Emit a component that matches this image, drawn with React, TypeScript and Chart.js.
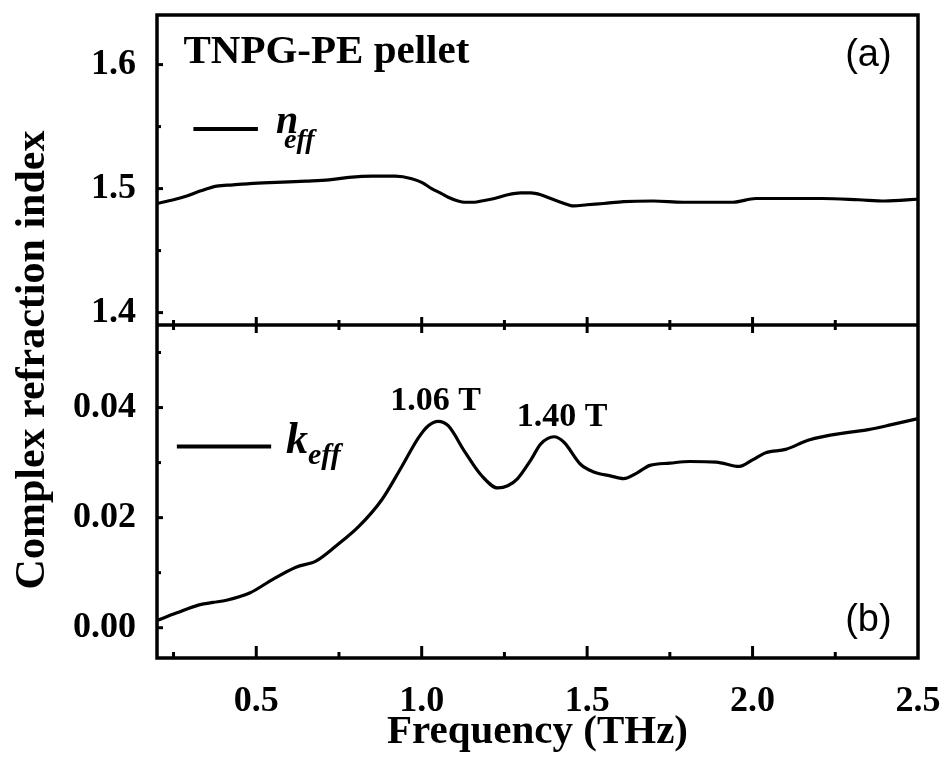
import React, { useEffect, useRef } from 'react';
import { Chart, registerables } from 'chart.js';

Chart.register(...registerables);

// ---- data ----
const freqN = [0.20, 0.25, 0.29, 0.33, 0.38, 0.43, 0.48, 0.56, 0.65, 0.72, 0.78, 0.85, 0.92, 0.97, 1.00, 1.03, 1.06, 1.08, 1.11, 1.13, 1.16, 1.18, 1.22, 1.26, 1.30, 1.33, 1.36, 1.39, 1.42, 1.46, 1.50, 1.55, 1.61, 1.70, 1.79, 1.87, 1.94, 2.01, 2.10, 2.21, 2.32, 2.40, 2.50];
const nEff = [1.488, 1.491, 1.494, 1.498, 1.502, 1.503, 1.504, 1.505, 1.506, 1.507, 1.509, 1.510, 1.510, 1.508, 1.505, 1.500, 1.496, 1.493, 1.490, 1.489, 1.489, 1.490, 1.492, 1.495, 1.4965, 1.4965, 1.495, 1.492, 1.489, 1.486, 1.487, 1.488, 1.4895, 1.490, 1.489, 1.489, 1.489, 1.492, 1.492, 1.492, 1.491, 1.490, 1.4915];

const freqK = [0.20, 0.26, 0.33, 0.37, 0.41, 0.48, 0.55, 0.62, 0.68, 0.74, 0.81, 0.88, 0.94, 0.99, 1.02, 1.05, 1.08, 1.13, 1.18, 1.23, 1.26, 1.29, 1.33, 1.36, 1.40, 1.43, 1.48, 1.52, 1.57, 1.61, 1.65, 1.69, 1.75, 1.81, 1.89, 1.96, 2.00, 2.04, 2.10, 2.17, 2.29, 2.35, 2.42, 2.50];
const kEff = [0.0013, 0.0027, 0.0042, 0.0046, 0.0050, 0.0063, 0.0088, 0.0110, 0.0121, 0.0148, 0.0184, 0.0233, 0.0293, 0.0345, 0.0367, 0.0375, 0.0367, 0.0320, 0.0277, 0.0254, 0.0258, 0.0271, 0.0305, 0.0334, 0.0347, 0.0337, 0.0297, 0.0283, 0.0276, 0.0271, 0.0281, 0.0295, 0.0299, 0.0302, 0.0301, 0.0293, 0.0305, 0.0318, 0.0324, 0.0341, 0.0355, 0.0360, 0.0369, 0.0380];

const xTickValues = [0.5, 1.0, 1.5, 2.0, 2.5];
const xMinorValues = [0.25, 0.75, 1.25, 1.75, 2.25];
const nTickValues = [1.4, 1.5, 1.6];
const nMinorValues = [1.45, 1.55];
const kTickValues = [0.0, 0.02, 0.04];
const kMinorValues = [0.01, 0.03, 0.05];

const xTitle = 'Frequency (THz)';
const yTitle = 'Complex refraction index';
const sampleLabel = 'TNPG-PE pellet';
const peakLabels = ['1.06 T', '1.40 T'];

const SERIF = '"Liberation Serif", "Times New Roman", serif';
const SANS = '"Liberation Sans", Arial, sans-serif';

const decorPlugin = {
  id: 'decor',
  afterDatasetsDraw(chart: any) {
    const { ctx, chartArea } = chart;
    const { left, right, top, bottom } = chartArea;
    const x = chart.scales.x;
    const yN = chart.scales.yN;
    const yK = chart.scales.yK;
    const mid = yN.bottom;
    ctx.save();
    ctx.strokeStyle = '#000';
    ctx.fillStyle = '#000';
    ctx.lineWidth = 3.5;
    ctx.strokeRect(left, top, right - left, bottom - top);
    ctx.beginPath();
    ctx.moveTo(left, mid);
    ctx.lineTo(right, mid);
    ctx.stroke();

    // x ticks (bottom + divider)
    ctx.lineWidth = 3;
    const xt = (v: number, lenB: number, lenM: number) => {
      const px = x.getPixelForValue(v);
      if (px >= right - 2) return;
      ctx.beginPath();
      ctx.moveTo(px, bottom);
      ctx.lineTo(px, bottom - lenB);
      ctx.moveTo(px, mid - lenM);
      ctx.lineTo(px, mid + lenM);
      ctx.stroke();
    };
    xTickValues.forEach((v) => xt(v, 12, 8));
    xMinorValues.forEach((v) => xt(v, 6, 5));

    // y ticks
    const yt = (s: any, v: number, len: number) => {
      const py = s.getPixelForValue(v);
      ctx.beginPath();
      ctx.moveTo(left, py);
      ctx.lineTo(left + len, py);
      ctx.stroke();
    };
    nTickValues.forEach((v) => yt(yN, v, 6));
    nMinorValues.forEach((v) => yt(yN, v, 4));
    kTickValues.forEach((v) => yt(yK, v, 6));
    kMinorValues.forEach((v) => yt(yK, v, 4));

    const X = (v: number) => x.getPixelForValue(v);

    // y title
    ctx.save();
    ctx.font = `bold 42px ${SERIF}`;
    ctx.textAlign = 'center';
    ctx.textBaseline = 'alphabetic';
    ctx.translate(44, 360);
    ctx.rotate(-Math.PI / 2);
    ctx.fillText(yTitle, 0, 0);
    ctx.restore();

    ctx.textAlign = 'left';
    ctx.textBaseline = 'alphabetic';

    // sample label
    ctx.font = `bold 41px ${SERIF}`;
    ctx.fillText(sampleLabel, X(0.28), yN.getPixelForValue(1.5 - (62 - 188) / 1240));

    // panel labels
    ctx.font = `38px ${SANS}`;
    ctx.fillText('(a)', X(2.28), yN.getPixelForValue(1.5 + (188 - 65) / 1240));
    ctx.fillText('(b)', X(2.28), yK.getPixelForValue(0.04 - (631 - 408) / 5500));

    // legend n_eff
    ctx.lineWidth = 4;
    const ny = yN.getPixelForValue(1.548);
    ctx.beginPath();
    ctx.moveTo(X(0.31), ny);
    ctx.lineTo(X(0.505), ny);
    ctx.stroke();
    ctx.font = `italic bold 40px ${SERIF}`;
    const nx = X(0.56);
    ctx.fillText('n', nx, yN.getPixelForValue(1.5448));
    ctx.font = `italic bold 28px ${SERIF}`;
    ctx.fillText('eff', nx + 8, yN.getPixelForValue(1.5 - (147 - 188) / 1240));

    // legend k_eff
    const ky = yK.getPixelForValue(0.04 - (447 - 408) / 5500);
    ctx.beginPath();
    ctx.moveTo(X(0.26), ky);
    ctx.lineTo(X(0.545), ky);
    ctx.stroke();
    ctx.font = `italic bold 44px ${SERIF}`;
    const kx = X(0.59);
    ctx.fillText('k', kx, yK.getPixelForValue(0.04 - (453 - 408) / 5500));
    const kw = ctx.measureText('k').width;
    ctx.font = `italic bold 30px ${SERIF}`;
    ctx.fillText('eff', kx + kw, yK.getPixelForValue(0.04 - (464 - 408) / 5500));

    // peak labels
    ctx.font = `bold 34px ${SERIF}`;
    ctx.fillText(peakLabels[0], X(0.905), yK.getPixelForValue(0.04 - (410 - 408) / 5500));
    ctx.fillText(peakLabels[1], X(1.287), yK.getPixelForValue(0.04 - (426 - 408) / 5500));

    ctx.restore();
  },
};

export default function App() {
  const canvasRef = useRef<HTMLCanvasElement | null>(null);

  useEffect(() => {
    const canvas = canvasRef.current;
    if (!canvas) return;
    const tickFont = { family: SERIF, size: 36, weight: 'bold' as const };
    const chart = new Chart(canvas, {
      type: 'line',
      data: {
        datasets: [
          {
            label: 'k_eff',
            data: freqK.map((f, i) => ({ x: f, y: kEff[i] })),
            xAxisID: 'x',
            yAxisID: 'yK',
            borderColor: '#000',
            borderWidth: 3.2,
            pointRadius: 0,
            cubicInterpolationMode: 'monotone',
            fill: false,
          },
          {
            label: 'n_eff',
            data: freqN.map((f, i) => ({ x: f, y: nEff[i] })),
            xAxisID: 'x',
            yAxisID: 'yN',
            borderColor: '#000',
            borderWidth: 3.2,
            pointRadius: 0,
            cubicInterpolationMode: 'monotone',
            fill: false,
          },
        ],
      },
      options: {
        animation: false,
        responsive: true,
        maintainAspectRatio: false,
        layout: { padding: { top: 15, right: 27, bottom: 0, left: 0 } },
        plugins: {
          legend: { display: false },
          tooltip: { enabled: false },
        },
        scales: {
          x: {
            type: 'linear',
            position: 'bottom',
            min: 0.2,
            max: 2.5,
            grid: { display: false, drawTicks: false },
            border: { display: false },
            afterBuildTicks: (s: any) => {
              s.ticks = xTickValues.map((v) => ({ value: v }));
            },
            afterFit: (s: any) => {
              s.height = 99;
              s.paddingLeft = 0;
              s.paddingRight = 0;
            },
            ticks: {
              font: tickFont,
              color: '#000',
              padding: 22,
              maxRotation: 0,
              autoSkip: false,
              callback: (v: any) => Number(v).toFixed(1),
            },
            title: {
              display: true,
              text: xTitle,
              color: '#000',
              font: { family: SERIF, size: 41, weight: 'bold' },
              padding: { top: 0, bottom: 0 },
            },
          },
          yK: {
            type: 'linear',
            position: 'left',
            stack: 'panels',
            stackWeight: 333,
            min: -0.0055,
            max: 0.055,
            grid: { display: false, drawTicks: false },
            border: { display: false },
            afterBuildTicks: (s: any) => {
              s.ticks = kTickValues.map((v) => ({ value: v }));
            },
            afterFit: (s: any) => {
              s.width = 157;
              s.paddingTop = 0;
              s.paddingBottom = 0;
            },
            ticks: {
              font: tickFont,
              color: '#000',
              padding: 21,
              autoSkip: false,
              callback: (v: any) => Number(v).toFixed(2),
            },
          },
          yN: {
            type: 'linear',
            position: 'left',
            stack: 'panels',
            stackWeight: 310,
            min: 1.39,
            max: 1.64,
            grid: { display: false, drawTicks: false },
            border: { display: false },
            afterBuildTicks: (s: any) => {
              s.ticks = nTickValues.map((v) => ({ value: v }));
            },
            afterFit: (s: any) => {
              s.width = 157;
              s.paddingTop = 0;
              s.paddingBottom = 0;
            },
            ticks: {
              font: tickFont,
              color: '#000',
              padding: 21,
              autoSkip: false,
              callback: (v: any) => Number(v).toFixed(1),
            },
          },
        },
      } as any,
      plugins: [decorPlugin],
    });
    return () => chart.destroy();
  }, []);

  return (
    <div style={{ position: 'absolute', left: 0, top: 0, width: 945, height: 757, background: '#fff' }}>
      <canvas ref={canvasRef} />
    </div>
  );
}
